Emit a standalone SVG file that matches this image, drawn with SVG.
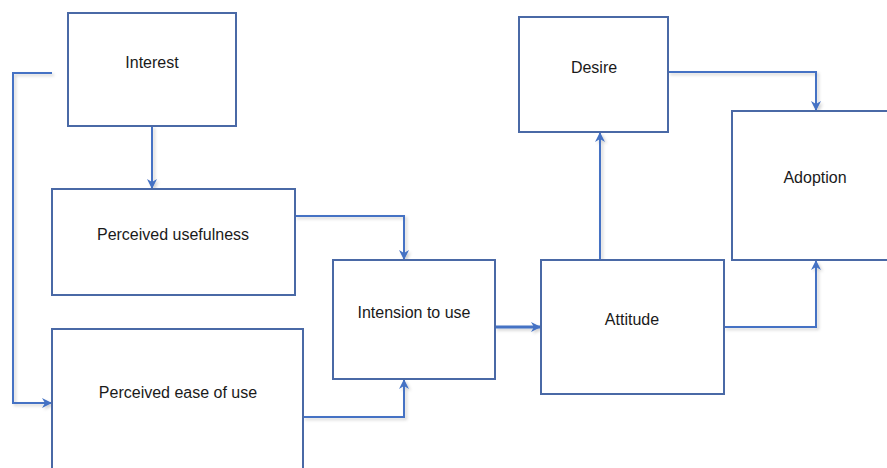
<svg xmlns="http://www.w3.org/2000/svg" width="887" height="468" viewBox="0 0 887 468">
<defs>
<style>
.box{fill:#fff;stroke:#4a69a6;stroke-width:2}
.lbl{font-family:"Liberation Sans",Arial,sans-serif;font-size:16px;fill:#1a1a1a;text-anchor:middle;dominant-baseline:central}
.con{fill:none;stroke:#4472c4;stroke-width:2}
</style>
<marker id="ah" viewBox="0 0 10 10" refX="9" refY="5" markerWidth="10" markerHeight="10" orient="auto" markerUnits="userSpaceOnUse">
<path d="M0,0 L10,5 L0,10 L3,5 z" fill="#4472c4"/>
</marker>
<filter id="sh" x="-20%" y="-20%" width="140%" height="140%">
<feDropShadow dx="2" dy="2" stdDeviation="1.5" flood-color="#000" flood-opacity="0.18"/>
</filter>
</defs>
<rect width="887" height="468" fill="#fff"/>
<g id="connectors" filter="url(#sh)">
<path class="con" d="M52,73 H13 V403 H51" marker-end="url(#ah)"/>
<path class="con" d="M152,126 V188" marker-end="url(#ah)"/>
<path class="con" d="M295,216 H404 V259" marker-end="url(#ah)"/>
<path class="con" d="M303,417 H404 V380" marker-end="url(#ah)"/>
<path class="con" d="M495,327 H540" style="stroke-width:3" marker-end="url(#ah)"/>
<path class="con" d="M600,260 V133" marker-end="url(#ah)"/>
<path class="con" d="M668,72 H816 V110" marker-end="url(#ah)"/>
<path class="con" d="M724,327 H816 V261" marker-end="url(#ah)"/>
</g>
<g id="interest"><rect class="box" x="68" y="13" width="168" height="113"/><text class="lbl" x="152" y="62">Interest</text></g>
<g id="perceived-usefulness"><rect class="box" x="52" y="189" width="243" height="106"/><text class="lbl" x="173" y="234">Perceived usefulness</text></g>
<g id="perceived-ease"><rect class="box" x="52" y="329" width="251" height="160"/><text class="lbl" x="178" y="392">Perceived ease of use</text></g>
<g id="intension"><rect class="box" x="333" y="260" width="162" height="119"/><text class="lbl" x="414" y="312">Intension to use</text></g>
<g id="attitude"><rect class="box" x="541" y="260" width="183" height="134"/><text class="lbl" x="632" y="319">Attitude</text></g>
<g id="desire"><rect class="box" x="519" y="17" width="149" height="115"/><text class="lbl" x="594" y="67">Desire</text></g>
<g id="adoption"><rect class="box" x="732" y="111" width="170" height="149"/><text class="lbl" x="815" y="177">Adoption</text></g>
</svg>
